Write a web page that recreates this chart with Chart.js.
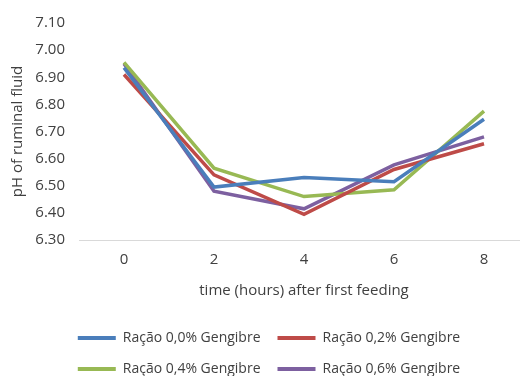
<!DOCTYPE html>
<html>
<head>
<meta charset="utf-8">
<script src="https://cdn.jsdelivr.net/npm/chart.js@4/dist/chart.umd.min.js"></script>
<style>
  html, body { margin: 0; padding: 0; background: #fff; overflow: hidden; }
  #wrap { position: relative; width: 532px; height: 386px; }
</style>
</head>
<body>
<div id="wrap"><canvas id="phChart"></canvas></div>
<script>
const hours = ["0", "2", "4", "6", "8"];
const seriesNames = ["Ração 0,0% Gengibre", "Ração 0,2% Gengibre", "Ração 0,4% Gengibre", "Ração 0,6% Gengibre"];
const ginger00 = [6.935, 6.495, 6.53, 6.515, 6.745];
const ginger02 = [6.91, 6.54, 6.395, 6.56, 6.655];
const ginger04 = [6.955, 6.565, 6.46, 6.485, 6.775];
const ginger06 = [6.95, 6.48, 6.415, 6.577, 6.68];
const colors = ["#4a7ebb", "#be4b48", "#98b954", "#7d60a0"];

const textColor = "#404040";
const font = { family: "'Open Sans', sans-serif", size: 15 };
const legendFont = { family: "'Open Sans', sans-serif", size: 14 };

const ctx = document.getElementById("phChart").getContext("2d");

new Chart(ctx, {
  type: "line",
  data: {
    labels: hours,
    datasets: [ginger00, ginger02, ginger04, ginger06].map((values, i) => ({
      label: seriesNames[i],
      data: values,
      borderColor: colors[i],
      backgroundColor: colors[i],
      borderWidth: 3.5,
      pointRadius: 0,
      tension: 0,
      fill: false,
    })),
  },
  options: {
    responsive: true,
    maintainAspectRatio: false,
    animation: false,
    layout: { padding: { top: 17, right: 3, left: 9, bottom: 0 } },
    plugins: {
      tooltip: { enabled: false },
      legend: {
        position: "bottom",
        labels: {
          color: textColor,
          font: legendFont,
          boxWidth: 38,
          boxHeight: 4,
          padding: 17,
          generateLabels: (chart) =>
            Chart.defaults.plugins.legend.labels.generateLabels(chart).map((item) => ({
              ...item,
              lineWidth: 0,
            })),
        },
      },
    },
    scales: {
      x: {
        offset: true,
        grid: { display: false, drawTicks: false },
        border: { display: true, color: "#d9d9d9", width: 1 },
        ticks: { color: textColor, font: font, padding: 11 },
        title: {
          display: true,
          text: "time (hours) after first feeding",
          color: textColor,
          font: font,
          padding: { top: 2, bottom: 14 },
        },
      },
      y: {
        min: 6.3,
        max: 7.1,
        grid: { display: false, drawTicks: false },
        border: { display: false },
        afterFit: (scale) => {
          scale.width = 70;
        },
        ticks: {
          stepSize: 0.1,
          color: textColor,
          font: font,
          padding: 14,
          callback: (value) => value.toFixed(2),
        },
        title: {
          display: true,
          text: "pH of ruminal fluid",
          color: textColor,
          font: font,
          padding: { top: 0, bottom: 8 },
        },
      },
    },
  },
});
</script>
</body>
</html>
